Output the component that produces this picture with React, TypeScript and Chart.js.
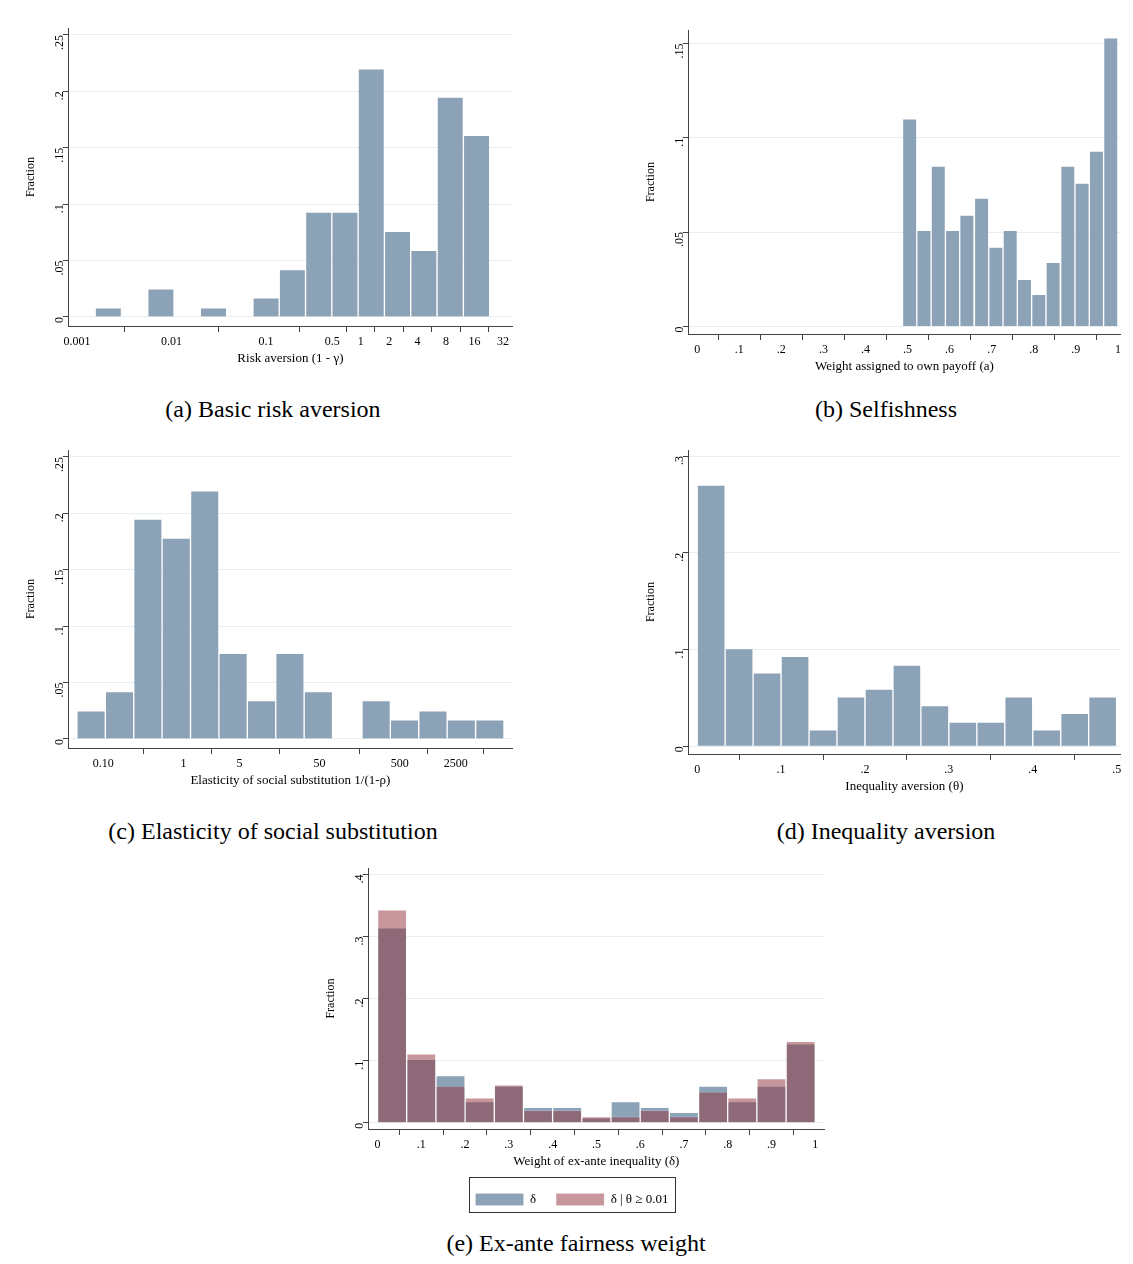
import React, { useEffect, useRef } from "react";
import { Chart, registerables } from "chart.js";
Chart.register(...registerables);

// Panel (a): Basic risk aversion (x in log10 units)
const aCenters = [-2.668, -2.112, -1.556, -1.0, -0.722, -0.444, -0.166, 0.112, 0.39, 0.668, 0.947, 1.225];
const aValues = [0.008, 0.025, 0.008, 0.017, 0.042, 0.093, 0.093, 0.22, 0.076, 0.059, 0.195, 0.161];
const aTickVals = [-3, -2, -1, Math.log10(0.5), 0, Math.log10(2), Math.log10(4), Math.log10(8), Math.log10(16), Math.log10(32)];
const aTickLabels = ["0.001", "0.01", "0.1", "0.5", "1", "2", "4", "8", "16", "32"];

// Panel (b): Selfishness
const bCenters = [0.505, 0.539, 0.573, 0.607, 0.641, 0.676, 0.71, 0.744, 0.778, 0.812, 0.846, 0.881, 0.915, 0.949, 0.983];
const bValues = [0.11, 0.051, 0.085, 0.051, 0.059, 0.068, 0.042, 0.051, 0.025, 0.017, 0.034, 0.085, 0.076, 0.093, 0.153];
const bTickVals = [0, 0.1, 0.2, 0.3, 0.4, 0.5, 0.6, 0.7, 0.8, 0.9, 1];
const bTickLabels = ["0", ".1", ".2", ".3", ".4", ".5", ".6", ".7", ".8", ".9", "1"];

// Panel (c): Elasticity of social substitution (x in log10 units)
const cCenters = [-1.152, -0.797, -0.443, -0.089, 0.266, 0.62, 0.975, 1.329, 1.684, 2.405, 2.759, 3.114, 3.468, 3.823];
const cValues = [0.025, 0.042, 0.195, 0.178, 0.22, 0.076, 0.034, 0.076, 0.042, 0.034, 0.017, 0.025, 0.017, 0.017];
const cTickVals = [-1, 0, Math.log10(5), Math.log10(50), Math.log10(500), Math.log10(2500)];
const cTickLabels = ["0.10", "1", "5", "50", "500", "2500"];

// Panel (d): Inequality aversion
const dCenters = [0.0167, 0.05, 0.0833, 0.1167, 0.15, 0.1833, 0.2167, 0.25, 0.2833, 0.3167, 0.35, 0.3833, 0.4167, 0.45, 0.4833];
const dValues = [0.27, 0.101, 0.076, 0.093, 0.017, 0.051, 0.059, 0.084, 0.042, 0.025, 0.025, 0.051, 0.017, 0.034, 0.051];
const dTickVals = [0, 0.1, 0.2, 0.3, 0.4, 0.5];
const dTickLabels = ["0", ".1", ".2", ".3", ".4", ".5"];

// Panel (e): Ex-ante fairness weight
const eCenters = [0.0333, 0.1, 0.1667, 0.2333, 0.3, 0.3667, 0.4333, 0.5, 0.5667, 0.6333, 0.7, 0.7667, 0.8333, 0.9, 0.9667];
const eDelta = [0.314, 0.102, 0.076, 0.034, 0.059, 0.025, 0.025, 0.008, 0.034, 0.025, 0.017, 0.059, 0.034, 0.059, 0.127];
const eDeltaTheta = [0.343, 0.111, 0.059, 0.04, 0.061, 0.02, 0.02, 0.01, 0.01, 0.02, 0.01, 0.05, 0.04, 0.071, 0.131];
const eTickVals = bTickVals;
const eTickLabels = bTickLabels;

const FONT = "'Liberation Serif', 'DejaVu Serif', serif";
const BLUE = "rgb(140,162,182)";
const RED = "rgba(146,51,60,0.51)";

function fmtY(v: number) {
  if (Math.abs(v) < 1e-9) return "0";
  return String(+v.toFixed(3)).replace(/^0\./, ".");
}

type DS = { label: string; values: number[]; color: string };
type P = {
  left: number; top: number; w: number; h: number;
  centers: number[]; sets: DS[];
  xMin: number; xMax: number; xTicks: number[]; xLabels: string[];
  yMin: number; yMax: number; yStep: number; yTop: number;
  xTitle: string; legend?: boolean;
};

function Hist(p: P) {
  const ref = useRef<HTMLCanvasElement>(null);
  useEffect(() => {
    const yT: number[] = [];
    for (let v = 0; v <= p.yTop + 1e-9; v += p.yStep) yT.push(+v.toFixed(4));
    const legendBorder = {
      id: "lb",
      afterDraw(chart: any) {
        if (!p.legend) return;
        const l = chart.legend;
        const ctx = chart.ctx;
        ctx.save();
        ctx.strokeStyle = "#333";
        ctx.lineWidth = 1;
        const bw = 206;
        const x0 = (l.left + l.right) / 2 - bw / 2;
        ctx.strokeRect(Math.round(x0) + 0.5, l.top + 4.5, bw, l.height - 8);
        ctx.restore();
      },
    };
    const n = p.sets.length;
    const chart = new Chart(ref.current!, {
      type: "bar",
      data: {
        datasets: p.sets.map((s, k) => ({
          label: s.label,
          data: p.centers.map((c, i) => ({ x: c, y: s.values[i] })),
          backgroundColor: s.color,
          borderColor: "rgba(255,255,255,0.12)",
          borderWidth: 1,
          barPercentage: 1,
          categoryPercentage: 1,
          grouped: false,
          order: n - k,
        })),
      } as any,
      options: {
        animation: false,
        responsive: false,
        devicePixelRatio: 1,
        layout: { padding: { right: 8, top: 4 } },
        plugins: {
          legend: p.legend
            ? {
                display: true,
                position: "bottom",
                labels: {
                  boxWidth: 48, boxHeight: 12, padding: 20, color: "#000", font: { family: FONT, size: 13 },
                  sort: (a: any, b: any) => a.datasetIndex - b.datasetIndex,
                },
              }
            : { display: false },
          tooltip: { enabled: false },
        },
        scales: {
          x: {
            type: "linear",
            min: p.xMin,
            max: p.xMax,
            offset: false,
            afterBuildTicks: (s: any) => { s.ticks = p.xTicks.map((v) => ({ value: v })); },
            ticks: {
              autoSkip: false, maxRotation: 0, color: "#000",
              font: { family: FONT, size: 12 },
              callback: (v: any, i: number) => p.xLabels[i],
            },
            grid: { drawOnChartArea: false, color: "#444", tickLength: 6 },
            border: { color: "#444" },
            title: { display: true, text: p.xTitle, color: "#000", font: { family: FONT, size: 13 }, padding: { top: -2 } },
          },
          y: {
            min: p.yMin,
            max: p.yMax,
            afterBuildTicks: (s: any) => { s.ticks = yT.map((v) => ({ value: v })); },
            ticks: {
              minRotation: 90, maxRotation: 90, color: "#000",
              font: { family: FONT, size: 12 },
              callback: (v: any) => fmtY(+v),
            },
            grid: { color: "#e6eff1", tickLength: 6, tickColor: "#444" },
            border: { color: "#444" },
            title: { display: true, text: "Fraction", color: "#000", font: { family: FONT, size: 12 } },
          },
        },
      } as any,
      plugins: [legendBorder],
    });
    return () => chart.destroy();
  }, []);
  return (
    <canvas
      ref={ref}
      width={p.w}
      height={p.h}
      style={{ position: "absolute", left: p.left, top: p.top, width: p.w, height: p.h }}
    />
  );
}

function Caption({ x, y, w, text }: { x: number; y: number; w: number; text: string }) {
  return (
    <div style={{ position: "absolute", left: x, top: y, width: w, textAlign: "center", fontFamily: FONT, fontSize: 24, color: "#000" }}>
      {text}
    </div>
  );
}

export default function App() {
  return (
    <div style={{ position: "relative", width: 1117, height: 1248, background: "#fff" }}>
      <Hist left={12} top={10} w={500} h={352} centers={aCenters}
        sets={[{ label: "a", values: aValues, color: BLUE }]}
        xMin={-3.086} xMax={1.6} xTicks={aTickVals} xLabels={aTickLabels}
        yMin={-0.008} yMax={0.256} yStep={0.05} yTop={0.25} xTitle="Risk aversion (1 - γ)" />
      <Caption x={0} y={388} w={530} text="(a) Basic risk aversion" />

      <Hist left={632} top={12} w={488} h={358} centers={bCenters}
        sets={[{ label: "b", values: bValues, color: BLUE }]}
        xMin={-0.02} xMax={1.005} xTicks={bTickVals} xLabels={bTickLabels}
        yMin={-0.004} yMax={0.157} yStep={0.05} yTop={0.15} xTitle="Weight assigned to own payoff (a)" />
      <Caption x={632} y={388} w={492} text="(b) Selfishness" />

      <Hist left={12} top={432} w={500} h={352} centers={cCenters}
        sets={[{ label: "c", values: cValues, color: BLUE }]}
        xMin={-1.43} xMax={4.1} xTicks={cTickVals} xLabels={cTickLabels}
        yMin={-0.008} yMax={0.256} yStep={0.05} yTop={0.25} xTitle="Elasticity of social substitution 1/(1-ρ)" />
      <Caption x={0} y={810} w={530} text="(c) Elasticity of social substitution" />

      <Hist left={632} top={432} w={488} h={358} centers={dCenters}
        sets={[{ label: "d", values: dValues, color: BLUE }]}
        xMin={-0.01} xMax={0.504} xTicks={dTickVals} xLabels={dTickLabels}
        yMin={-0.008} yMax={0.306} yStep={0.1} yTop={0.3} xTitle="Inequality aversion (θ)" />
      <Caption x={632} y={810} w={492} text="(d) Inequality aversion" />

      <Hist left={312} top={850} w={512} h={358} centers={eCenters}
        sets={[
          { label: "δ", values: eDelta, color: BLUE },
          { label: "δ | θ ≥ 0.01", values: eDeltaTheta, color: RED },
        ]}
        xMin={-0.02} xMax={1.02} xTicks={eTickVals} xLabels={eTickLabels}
        yMin={-0.01} yMax={0.41} yStep={0.1} yTop={0.4} xTitle="Weight of ex-ante inequality (δ)" legend />
      <Caption x={312} y={1222} w={512} text="(e) Ex-ante fairness weight" />
    </div>
  );
}
